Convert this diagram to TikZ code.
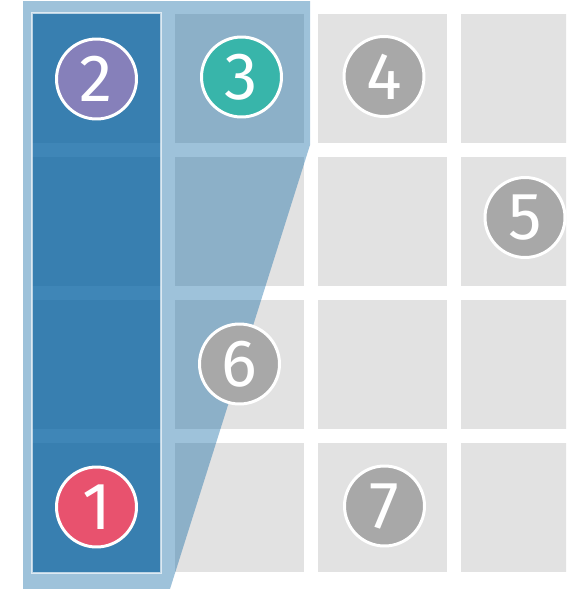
\documentclass[tikz,border=0pt]{standalone}
\usepackage{fontspec}
\setmainfont{Fira Sans}
\usetikzlibrary{positioning}

\definecolor{cellgray}{HTML}{E2E2E2}
\definecolor{numgray}{HTML}{A8A8A8}
\definecolor{numpurple}{HTML}{8680BA}
\definecolor{numteal}{HTML}{38B5AA}
\definecolor{numred}{HTML}{E8526E}
\definecolor{hlblue}{HTML}{005FA0}

\begin{document}
\begin{tikzpicture}[x=0.02cm, y=-0.02cm,
  cell/.style={fill=cellgray, minimum size=2.58cm, inner sep=0pt, anchor=north west},
  num/.style={circle, draw=white, line width=1.7pt, minimum size=1.6cm, inner sep=0pt,
    text=white, font=\fontsize{38}{38}\selectfont},
]
\useasboundingbox (0,0) rectangle (566,589);
\clip (0,0) rectangle (566,589);
\fill[white] (0,0) rectangle (566,589);

% grid of cells
\foreach \c/\x in {1/32, 2/175, 3/318, 4/461}
  \foreach \r/\y in {1/14, 2/157, 3/300, 4/443}
    \node[cell] (c-\r-\c) at (\x,\y) {};

% highlighted region
\fill[hlblue, fill opacity=0.38] (23,1) -- (310,1) -- (310,145) -- (170,589) -- (23,589) -- cycle;
\fill[hlblue, fill opacity=0.6] (32,13) rectangle (161,573);
\draw[white, draw opacity=0.65, line width=1.1pt] (32,13) rectangle (161,573);

% numbered markers
\node[num, fill=numred] (n1) at (96.5,507) {1};
\node[num, fill=numpurple] (n2) at (96.5,79) {2};
\node[num, fill=numteal] (n3) at (241.5,77) {3};
\node[num, fill=numgray] (n4) at (384,76.5) {4};
\node[num, fill=numgray] (n5) at (525,217.5) {5};
\node[num, fill=numgray] (n6) at (239.5,364) {6};
\node[num, fill=numgray] (n7) at (384.5,506) {7};
\end{tikzpicture}
\end{document}
